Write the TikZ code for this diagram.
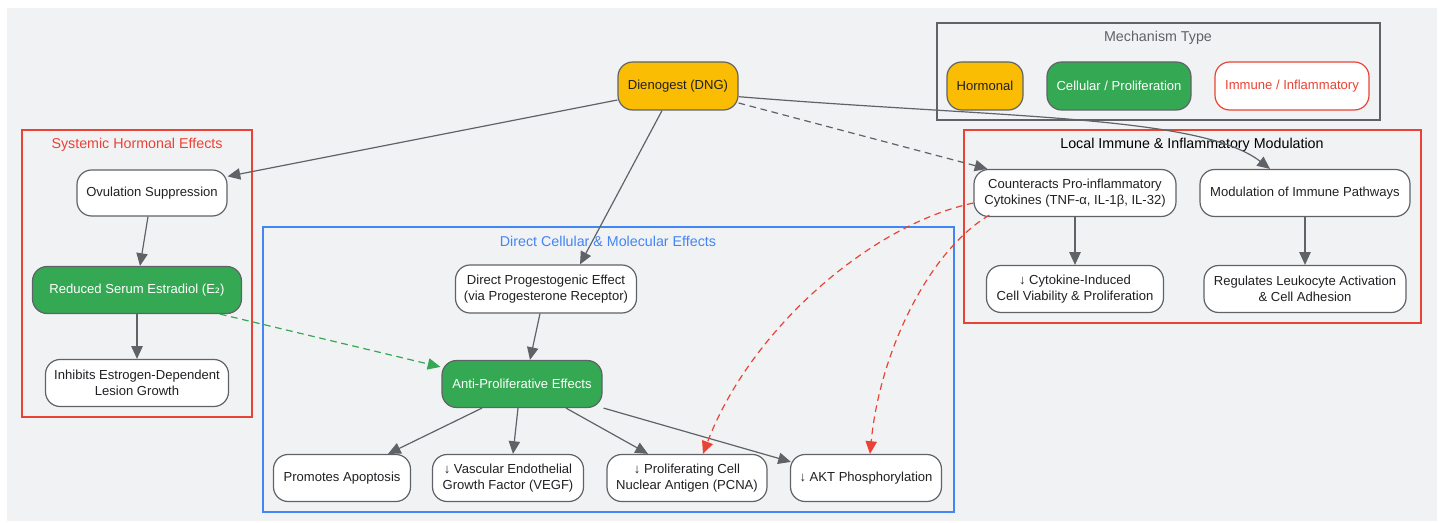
\documentclass[tikz,border=0pt]{standalone}
\usepackage{fontspec}
\setmainfont{Liberation Sans}
\newfontfamily\dvs{DejaVu Sans}
\usetikzlibrary{arrows.meta,calc}
\definecolor{bgc}{HTML}{F1F2F4}
\definecolor{ylw}{HTML}{FBBC04}
\definecolor{grn}{HTML}{34A853}
\definecolor{rd}{HTML}{EA4335}
\definecolor{blu}{HTML}{4285F4}
\definecolor{edg}{HTML}{5F6368}
\definecolor{txt}{HTML}{202124}
\tikzset{
  box/.style={draw=edg, line width=0.9pt, rounded corners=11pt, fill=white, text=txt,
    align=center, inner sep=0pt, minimum height=35.25pt, font=\fontsize{9.8}{11.6}\selectfont},
  ybox/.style={box, fill=ylw},
  gbox/.style={box, fill=grn, text=white},
  rbox/.style={box, draw=rd, text=rd},
  cluster/.style={line width=1pt},
  ctitle/.style={font=\fontsize{10.7}{12}\selectfont},
  arr/.style={draw=edg, line width=0.9pt, -{Triangle[length=9.5pt,width=8.5pt]}},
  darr/.style={arr, dash pattern=on 5pt off 3.5pt},
  garr/.style={line width=0.9pt, draw=grn, dash pattern=on 5pt off 3.5pt, -{Triangle[length=9.5pt,width=8.5pt,fill=grn]}},
  rarr/.style={line width=0.9pt, draw=rd, dash pattern=on 5pt off 3.5pt, -{Triangle[length=9.5pt,width=8.5pt,fill=rd]}},
}
\begin{document}
\begin{tikzpicture}[x=0.75pt,y=-0.75pt]
\useasboundingbox (0,0) rectangle (1443,523);
\fill[white] (0,0) rectangle (1443,523);
\fill[bgc] (7,8) rectangle (1437,521);

% clusters
\draw[cluster, draw=edg] (937,23) rectangle (1380,120);
\node[ctitle, text=edg] (lgt) at (1158,38) {Mechanism Type};
\draw[cluster, draw=rd] (22,130) rectangle (252,417);
\node[ctitle, text=rd] (st) at (137,145) {Systemic Hormonal Effects};
\draw[cluster, draw=blu] (263,227) rectangle (954,512);
\node[ctitle, text=blu] (dt) at (608,241) {Direct Cellular \& Molecular Effects};
\draw[cluster, draw=rd] (964,130) rectangle (1421,323);
\node[ctitle, text=black] (lt) at (1192,145) {Local Immune \& Inflammatory Modulation};

% legend
\node[ybox, minimum width=57pt, minimum height=36pt] (lh) at (985,86) {Hormonal};
\node[gbox, minimum width=108pt, minimum height=36pt] (lc) at (1119,86) {Cellular / Proliferation};
\node[rbox, minimum width=115.5pt, minimum height=36pt] (li) at (1292,86) {Immune / Inflammatory};

% nodes
\node[ybox, minimum width=90pt, minimum height=36pt] (dng) at (678,86) {Dienogest (DNG)};
\node[box, minimum width=112.5pt, minimum height=34.5pt] (ovu) at (152,193) {Ovulation Suppression};
\node[gbox, minimum width=156.75pt] (red) at (137,290) {Reduced Serum Estradiol (E{\dvs ₂})};
\node[box, minimum width=137.25pt] (inh) at (137,383) {Inhibits Estrogen-Dependent\\Lesion Growth};
\node[box, minimum width=135.75pt, minimum height=36pt] (dpe) at (546,289) {Direct Progestogenic Effect\\(via Progesterone Receptor)};
\node[gbox, minimum width=120pt] (anti) at (522,384) {Anti-Proliferative Effects};
\node[box, minimum width=102.75pt] (apo) at (342,478) {Promotes Apoptosis};
\node[box, minimum width=113.25pt] (vegf) at (508,478) {↓ Vascular Endothelial\\Growth Factor (VEGF)};
\node[box, minimum width=120pt] (pcna) at (687,478) {↓ Proliferating Cell\\Nuclear Antigen (PCNA)};
\node[box, minimum width=113.25pt] (akt) at (866,478) {↓ AKT Phosphorylation};
\node[box, minimum width=151.5pt] (cnt) at (1075,193) {Counteracts Pro-inflammatory\\Cytokines (TNF-α, IL-1β, IL-32)};
\node[box, minimum width=157.5pt] (mod) at (1305,193) {Modulation of Immune Pathways};
\node[box, minimum width=132.75pt] (cyt) at (1075,289) {↓ Cytokine-Induced\\Cell Viability \& Proliferation};
\node[box, minimum width=151.5pt] (reg) at (1305,289) {Regulates Leukocyte Activation\\\& Cell Adhesion};

% edges
\draw[arr] (dng.west |- 0,100) -- ($(ovu.north east)+(0,7)$);
\draw[arr] ($(dng.south)+(-16,0)$) -- ($(dpe.north)+(34,0)$);
\draw[darr] ($(dng.east)+(0,17)$) -- ($(cnt.north west)+(14,0)$);
\draw[arr] (dng.-10) .. controls (1000,118) and (1200,115) .. ($(mod.north)+(-35,0)$);
\draw[arr] ($(ovu.south)+(-4,0)$) -- ($(red.north)+(3,0)$);
\draw[arr] (red) -- (inh);
\draw[garr] ($(red.south)+(83,0)$) -- ($(anti.north west)+(-1,7)$);
\draw[arr] ($(dpe.south)+(-6,0)$) -- ($(anti.north)+(8,0)$);
\draw[arr] ($(anti.south)+(-40,0)$) -- ($(apo.north)+(46,0)$);
\draw[arr] ($(anti.south)+(-4,0)$) -- ($(vegf.north)+(5,0)$);
\draw[arr] ($(anti.south)+(44,0)$) -- ($(pcna.north)+(-39,0)$);
\draw[arr] ($(anti.south east)+(1,0)$) -- ($(akt.north west)+(1,8)$);
\draw[rarr] ($(cnt.west)+(0,10)$) .. controls (870,225) and (750,330) .. ($(pcna.north)+(16,0)$);
\draw[rarr] ($(cnt.south west)+(16,-2)$) .. controls (930,250) and (880,350) .. ($(akt.north)+(4,0)$);
\draw[arr] (cnt) -- (cyt);
\draw[arr] (mod) -- (reg);
\end{tikzpicture}
\end{document}
